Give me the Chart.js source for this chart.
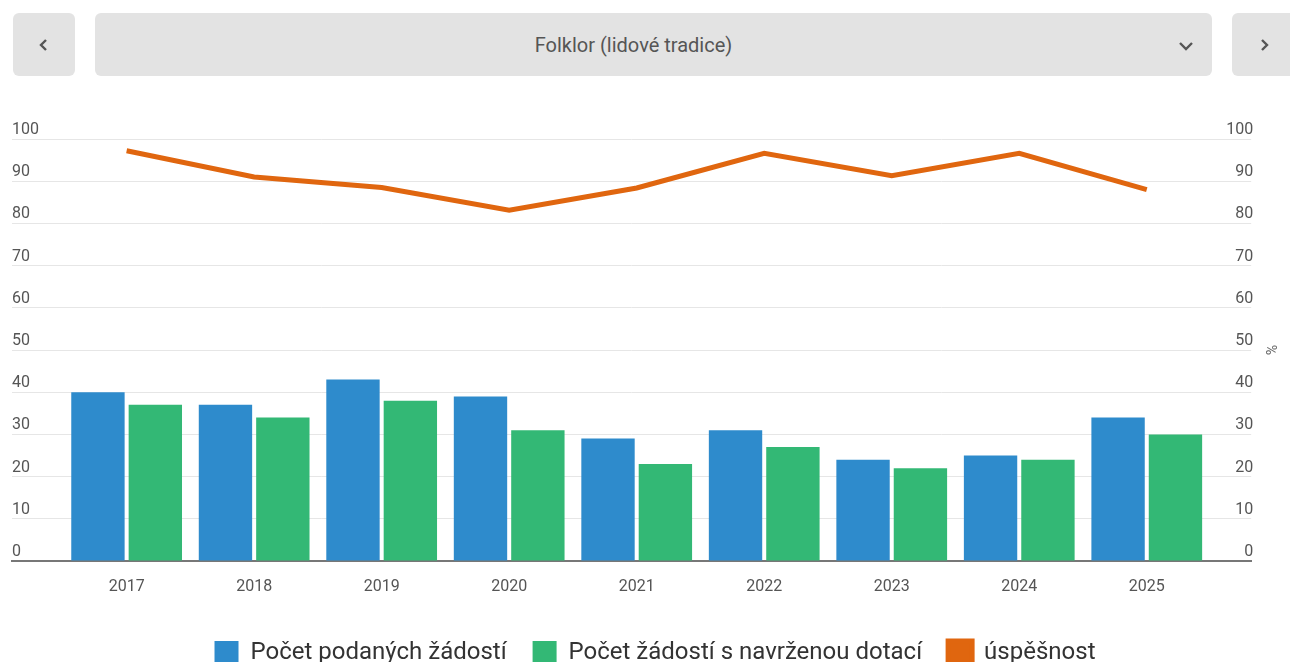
<!DOCTYPE html>
<html>
<head>
<meta charset="utf-8">
<script src="https://cdn.jsdelivr.net/npm/chart.js@4"></script>
<style>
  html, body { margin: 0; padding: 0; background: #fff; overflow: hidden; width: 1290px; height: 662px; font-family: Roboto, "Noto Sans", sans-serif; }
  .btn { position: absolute; top: 13px; height: 63px; background: #e3e3e3; border-radius: 6px; color: #555; display: flex; align-items: center; justify-content: center; }
  #prev { left: 13px; width: 62px; }
  #sel { left: 95px; width: 1117px; font-size: 20px; color: #555; box-sizing: border-box; padding-right: 40px; }
  #next { left: 1232px; width: 80px; }
  #sel .chev { position: absolute; right: 18px; top: 50%; transform: translateY(-50%); }
  #wrap { position: absolute; left: 0; top: 95px; width: 1302px; height: 580px; }
</style>
</head>
<body>
<div class="btn" id="prev"><svg width="12" height="14" viewBox="0 0 12 14"><path d="M8 2 L3 7 L8 12" stroke="#555" stroke-width="2.4" fill="none"/></svg></div>
<div class="btn" id="sel">Folklor (lidové tradice)<span class="chev"><svg width="16" height="12" viewBox="0 0 16 12"><path d="M2 3 L8 9 L14 3" stroke="#555" stroke-width="2.4" fill="none"/></svg></span></div>
<div class="btn" id="next"><div style="position:absolute;left:26px;top:24px"><svg width="12" height="14" viewBox="0 0 12 14"><path d="M4 2 L9 7 L4 12" stroke="#555" stroke-width="2.4" fill="none"/></svg></div></div>
<div id="wrap"><canvas id="c"></canvas></div>
<script>
const years = ['2017','2018','2019','2020','2021','2022','2023','2024','2025'];
const submitted = [40, 37, 43, 39, 29, 31, 24, 25, 34];
const funded = [37, 34, 38, 31, 23, 27, 22, 24, 30];
const success = [97.2, 91.0, 88.5, 83.1, 88.4, 96.6, 91.3, 96.6, 88.0];
const leftTicks = [0, 10, 20, 30, 40, 50, 60, 70, 80, 90, 100];

const toXY = arr => arr.map((v, i) => ({ x: i, y: v }));
const tickFont = { family: 'Roboto', size: 16 };

new Chart(document.getElementById('c'), {
  data: {
    datasets: [
      { type: 'line', label: 'úspěšnost', data: toXY(success), yAxisID: 'y1', borderColor: '#e0660f', backgroundColor: '#e0660f', borderWidth: 5, pointRadius: 0, tension: 0, order: 0 },
      { type: 'bar', label: 'Počet podaných žádostí', data: toXY(submitted), yAxisID: 'y', backgroundColor: '#2e8bcc', categoryPercentage: 0.9, barPercentage: 0.93, order: 1 },
      { type: 'bar', label: 'Počet žádostí s navrženou dotací', data: toXY(funded), yAxisID: 'y', backgroundColor: '#33b875', categoryPercentage: 0.9, barPercentage: 0.93, order: 1 }
    ]
  },
  options: {
    responsive: true,
    maintainAspectRatio: false,
    animation: false,
    layout: { padding: { top: 44, left: 12, right: 4, bottom: 0 } },
    plugins: {
      legend: {
        position: 'bottom',
        labels: {
          font: { family: 'Roboto', size: 24 },
          color: '#333',
          boxWidth: 24,
          boxHeight: 24,
          padding: 26,
          sort: (a, b) => {
            const order = ['Počet podaných žádostí', 'Počet žádostí s navrženou dotací', 'úspěšnost'];
            return order.indexOf(a.text) - order.indexOf(b.text);
          }
        }
      },
      tooltip: { enabled: false }
    },
    scales: {
      x: {
        type: 'linear',
        offset: false,
        min: -0.899,
        max: 8.819,
        grid: { display: false, drawTicks: false },
        border: { display: true, color: '#777', width: 2 },
        afterBuildTicks: s => { s.ticks = years.map((_, i) => ({ value: i })); },
        afterFit: s => { s.height = 54; },
        ticks: { callback: v => years[v], font: tickFont, color: '#555', padding: 16, autoSkip: false, maxRotation: 0 }
      },
      y: {
        position: 'left',
        min: 0, max: 100,
        afterBuildTicks: s => { s.ticks = leftTicks.map(v => ({ value: v })); },
        grid: { color: '#e6e6e6', drawTicks: false },
        border: { display: false },
        ticks: { mirror: true, padding: 0, labelOffset: -9, font: tickFont, color: '#555' }
      },
      y1: {
        position: 'right',
        min: 0, max: 100,
        afterBuildTicks: s => { s.ticks = leftTicks.map(v => ({ value: v })); },
        grid: { drawOnChartArea: false, drawTicks: false },
        border: { display: false },
        title: { display: true, text: '%', font: { family: 'Roboto', size: 14 }, color: '#666', padding: { top: 20, bottom: 6 } },
        ticks: { mirror: true, padding: 2, labelOffset: -9, font: tickFont, color: '#555' }
      }
    }
  }
});
</script>
</body>
</html>
